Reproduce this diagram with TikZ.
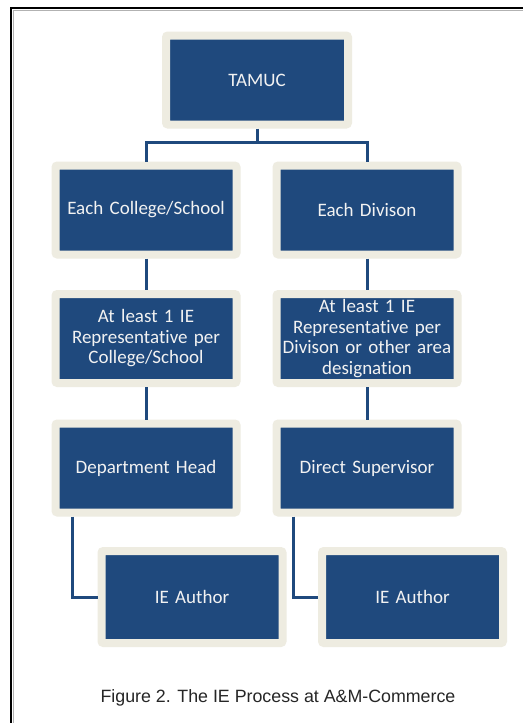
\documentclass[tikz,border=0pt]{standalone}
\usepackage{fontspec}
\setmainfont{Carlito}[Ligatures=NoCommon]
\newfontfamily\captionfont{Liberation Sans}
\usetikzlibrary{shadows}
\definecolor{boxblue}{HTML}{1F497D}
\definecolor{boxrim}{HTML}{EEECE1}
\definecolor{boxtext}{HTML}{F2F2F2}
\tikzset{
    orgbox/.style={rectangle, rounded corners=2pt, fill=boxblue, draw=boxrim, line width=8pt,
        minimum width=181pt, minimum height=89pt, inner sep=0pt, text width=176pt, align=center,
        text=boxtext, font=\fontsize{19}{20.5}\selectfont,
        drop shadow={shadow xshift=2pt, shadow yshift=-3pt, opacity=0.25}},
    link/.style={draw=boxblue, line width=3pt}
}

\begin{document}
\begin{tikzpicture}[x=1pt, y=-1pt]
    \useasboundingbox[fill=white] (0,0) rectangle (523,723);
    \draw[line width=2pt] (11,723) -- (11,8) -- (523,8);
    \draw[gray!60, line width=0.8pt] (13,723) -- (13,10) -- (523,10);

    \node[orgbox, minimum width=182pt] (tamuc) at (257,80) {TAMUC};
    \node[orgbox] (college) at (146,210) {Each College/School};
    \node[orgbox] (division) at (367,210) {Each Divison};
    \node[orgbox] (collrep) at (146,338.5) {At least 1 IE\\Representative per\\College/School};
    \node[orgbox] (divrep) at (367,338.5) {At least 1 IE\\Representative per\\Divison or other area\\designation};
    \node[orgbox] (depthead) at (146,468) {Department Head};
    \node[orgbox] (supervisor) at (367,468) {Direct Supervisor};
    \node[orgbox, minimum height=92pt] (authorA) at (192,597) {IE Author};
    \node[orgbox, minimum height=92pt] (authorB) at (412.5,597) {IE Author};

    \coordinate (fork) at ([yshift=-14pt]tamuc.south);
    \draw[link] (tamuc.south) -- (fork);
    \draw[link] (college.north) |- (fork) -| (division.north);
    \draw[link] (college.south) -- (collrep.north);
    \draw[link] (division.south) -- (divrep.north);
    \draw[link] (collrep.south) -- (depthead.north);
    \draw[link] (divrep.south) -- (supervisor.north);
    \draw[link] ([xshift=21pt]depthead.south west) |- (authorA.west);
    \draw[link] ([xshift=21pt]supervisor.south west) |- (authorB.west);

    \node[font=\captionfont\fontsize{17.8}{21}\selectfont, text=black!85] (caption) at (278,698) {Figure 2. The IE Process at A\&M-Commerce};
\end{tikzpicture}
\end{document}
